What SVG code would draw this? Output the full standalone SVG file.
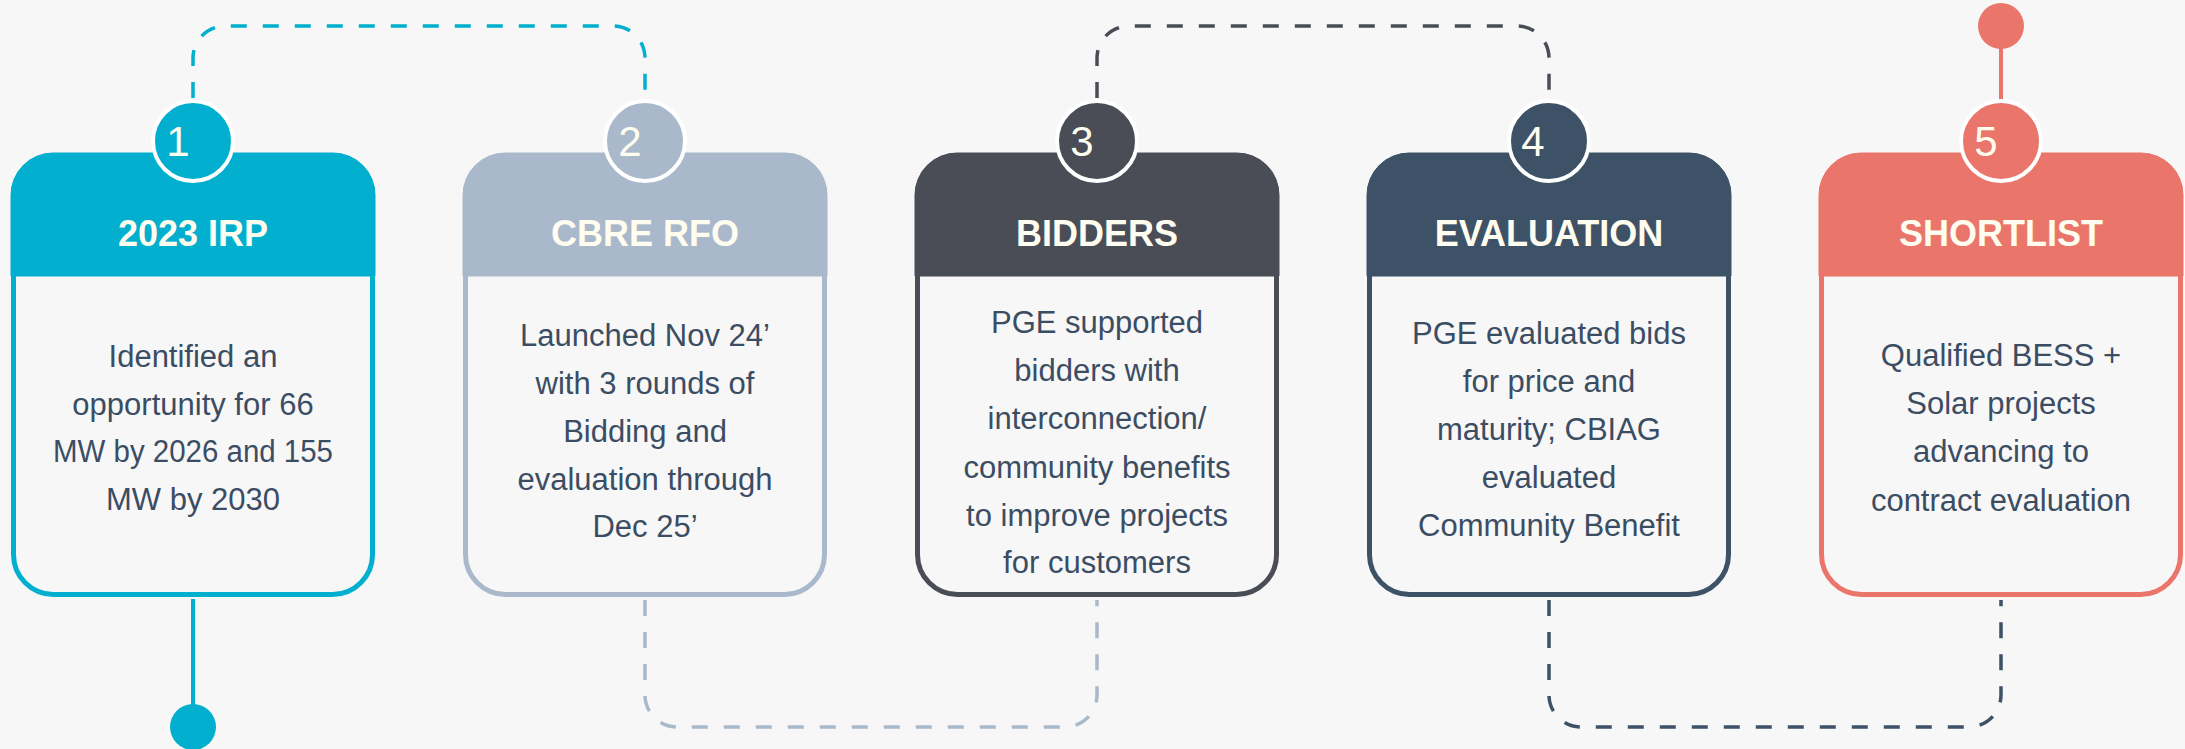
<svg xmlns="http://www.w3.org/2000/svg" width="2185" height="749" viewBox="0 0 2185 749">
  <style>
    .bg { fill: #F7F7F7; }
    .frame { fill: #F7F7F7; stroke-width: 5; }
    .num { font-family: "Liberation Sans", Arial, sans-serif; font-size: 42px; fill: #FFFCF0; text-anchor: middle; }
    .title { font-family: "Liberation Sans", Arial, sans-serif; font-size: 36px; font-weight: bold; fill: #FFFCF0; text-anchor: middle; }
    .body { font-family: "Liberation Sans", Arial, sans-serif; font-size: 31px; fill: #3B4D63; text-anchor: middle; }
    .dash { fill: none; stroke-width: 3.5; stroke-dasharray: 16 16; }
    .solid { fill: none; stroke-width: 4; }
    .c1 { fill: #02AFCF; stroke: #02AFCF; }
    .c2 { fill: #A9B9CB; stroke: #A9B9CB; }
    .c3 { fill: #4A4D56; stroke: #4A4D56; }
    .c4 { fill: #3D5266; stroke: #3D5266; }
    .c5 { fill: #EA756B; stroke: #EA756B; }
    circle.badge { stroke: #FFFFFF; stroke-width: 4; }
  </style>
  <rect class="bg" x="0" y="0" width="2185" height="749"/>

  <g id="connectors">
    <path class="dash" stroke="#02AFCF" d="M193,98 V58 A32,32 0 0 1 225,26 H613 A32,32 0 0 1 645,58 V98"/>
    <path class="dash" stroke="#A9B9CB" d="M645,600 V695 A32,32 0 0 0 677,727 H1065 A32,32 0 0 0 1097,695 V600"/>
    <path class="dash" stroke="#4A4D56" d="M1097,98 V58 A32,32 0 0 1 1129,26 H1517 A32,32 0 0 1 1549,58 V98"/>
    <path class="dash" stroke="#3D5266" d="M1549,600 V695 A32,32 0 0 0 1581,727 H1969 A32,32 0 0 0 2001,695 V600"/>
    <path class="solid" stroke="#02AFCF" d="M193,599 V710"/>
    <circle cx="193" cy="727" r="23" fill="#02AFCF"/>
    <path class="solid" stroke="#EA756B" d="M2001,40 V100"/>
    <circle cx="2001" cy="26" r="23" fill="#EA756B"/>
  </g>

  <g id="node1">
    <rect class="frame" stroke="#02AFCF" x="13.5" y="155.5" width="359" height="439" rx="40"/>
    <path class="c1" stroke="none" d="M11,276 V195 A42,42 0 0 1 53,153 H333 A42,42 0 0 1 375,195 V276 Z"/>
    <circle class="c1 badge" cx="193" cy="141" r="40"/>
    <text class="num" x="178" y="156">1</text>
    <text class="title" x="193" y="246">2023 IRP</text>
    <text class="body" x="193" y="367">Identified an</text>
    <text class="body" x="193" y="414.5">opportunity for 66</text>
    <text class="body" x="193" y="462" textLength="280" lengthAdjust="spacingAndGlyphs">MW by 2026 and 155</text>
    <text class="body" x="193" y="510">MW by 2030</text>
  </g>

  <g id="node2">
    <rect class="frame" stroke="#A9B9CB" x="465.5" y="155.5" width="359" height="439" rx="40"/>
    <path class="c2" stroke="none" d="M463,276 V195 A42,42 0 0 1 505,153 H785 A42,42 0 0 1 827,195 V276 Z"/>
    <circle class="c2 badge" cx="645" cy="141" r="40"/>
    <text class="num" x="630" y="156">2</text>
    <text class="title" x="645" y="246">CBRE RFO</text>
    <text class="body" x="645" y="346">Launched Nov 24’</text>
    <text class="body" x="645" y="394">with 3 rounds of</text>
    <text class="body" x="645" y="442">Bidding and</text>
    <text class="body" x="645" y="489.5">evaluation through</text>
    <text class="body" x="645" y="537">Dec 25’</text>
  </g>

  <g id="node3">
    <rect class="frame" stroke="#4A4D56" x="917.5" y="155.5" width="359" height="439" rx="40"/>
    <path class="c3" stroke="none" d="M915,276 V195 A42,42 0 0 1 957,153 H1237 A42,42 0 0 1 1279,195 V276 Z"/>
    <circle class="c3 badge" cx="1097" cy="141" r="40"/>
    <text class="num" x="1082" y="156">3</text>
    <text class="title" x="1097" y="246">BIDDERS</text>
    <text class="body" x="1097" y="333">PGE supported</text>
    <text class="body" x="1097" y="381">bidders with</text>
    <text class="body" x="1097" y="429">interconnection/</text>
    <text class="body" x="1097" y="477.5">community benefits</text>
    <text class="body" x="1097" y="525.5">to improve projects</text>
    <text class="body" x="1097" y="573">for customers</text>
  </g>

  <g id="node4">
    <rect class="frame" stroke="#3D5266" x="1369.5" y="155.5" width="359" height="439" rx="40"/>
    <path class="c4" stroke="none" d="M1367,276 V195 A42,42 0 0 1 1409,153 H1689 A42,42 0 0 1 1731,195 V276 Z"/>
    <circle class="c4 badge" cx="1549" cy="141" r="40"/>
    <text class="num" x="1533" y="156">4</text>
    <text class="title" x="1549" y="246">EVALUATION</text>
    <text class="body" x="1549" y="344">PGE evaluated bids</text>
    <text class="body" x="1549" y="392">for price and</text>
    <text class="body" x="1549" y="440">maturity; CBIAG</text>
    <text class="body" x="1549" y="487.5">evaluated</text>
    <text class="body" x="1549" y="536">Community Benefit</text>
  </g>

  <g id="node5">
    <rect class="frame" stroke="#EA756B" x="1821.5" y="155.5" width="359" height="439" rx="40"/>
    <path class="c5" stroke="none" d="M1819,276 V195 A42,42 0 0 1 1861,153 H2141 A42,42 0 0 1 2183,195 V276 Z"/>
    <circle class="c5 badge" cx="2001" cy="141" r="40"/>
    <text class="num" x="1986" y="156">5</text>
    <text class="title" x="2001" y="246">SHORTLIST</text>
    <text class="body" x="2001" y="366">Qualified BESS +</text>
    <text class="body" x="2001" y="414">Solar projects</text>
    <text class="body" x="2001" y="462">advancing to</text>
    <text class="body" x="2001" y="511">contract evaluation</text>
  </g>
</svg>
